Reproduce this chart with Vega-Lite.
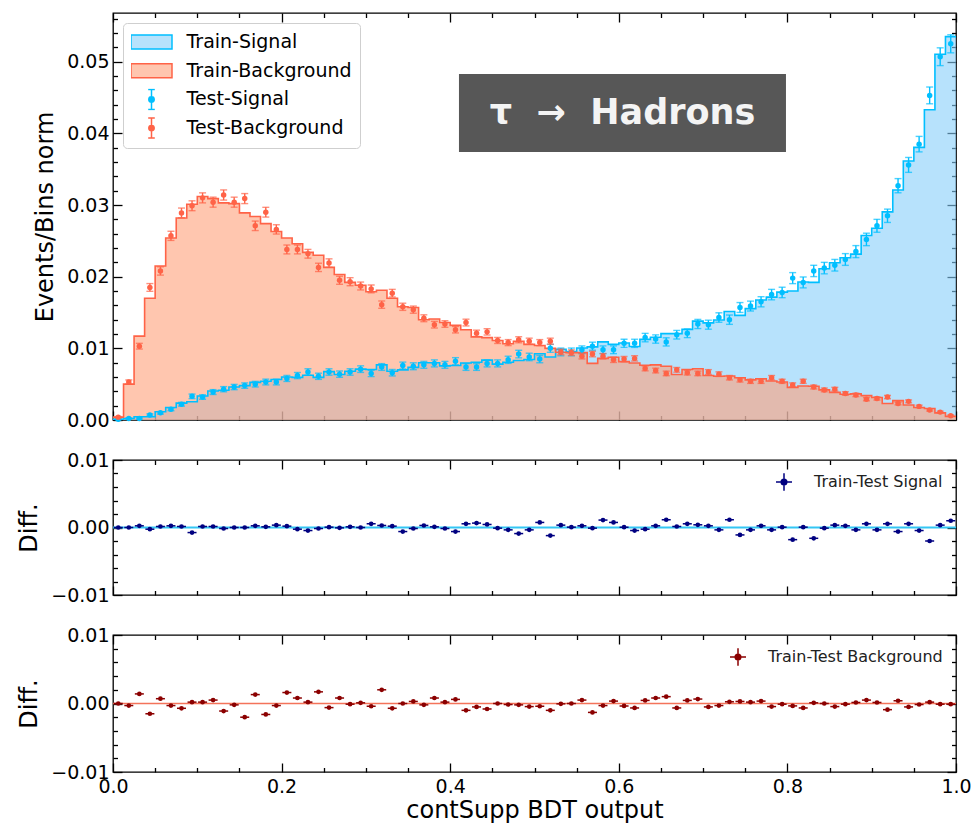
{
  "$schema": "https://vega.github.io/schema/vega-lite/v6.json",
  "padding": {"left": 17, "top": 9, "right": 5, "bottom": 5},
  "background": "white",
  "config": {
    "font": "DejaVu Sans",
    "view": {"stroke": "#000", "strokeWidth": 1.3},
    "axis": {"domain": false, "grid": false, "labelFont": "DejaVu Sans", "labelFontSize": 19, "labelColor": "#000", "titleFont": "DejaVu Sans", "titleFontSize": 24, "titleFontWeight": "normal", "titleColor": "#000", "tickColor": "#000", "tickWidth": 1.3, "labelOverlap": false, "labelFlush": false, "labelBound": false}
  },
  "datasets": {
    "bins": [
      {"x":0.00625,"lo":0,"hi":0.0125,"st":0.0001,"ss":0.0001,"se":0.0001,"bt":0.0004,"bs":0.0004,"be":0.00008,"ds":0,"db":0},
      {"x":0.01875,"lo":0.0125,"hi":0.025,"st":0.0002,"ss":0.0002,"se":0.0001,"bt":0.005,"bs":0.0053,"be":0.00029,"ds":0,"db":-0.0003},
      {"x":0.03125,"lo":0.025,"hi":0.0375,"st":0.00045,"ss":0.0002,"se":0.0001,"bt":0.0117,"bs":0.0103,"be":0.0004,"ds":0.00025,"db":0.0014},
      {"x":0.04375,"lo":0.0375,"hi":0.05,"st":0.00045,"ss":0.0007,"se":0.00015,"bt":0.017,"bs":0.0185,"be":0.00054,"ds":-0.00025,"db":-0.0015},
      {"x":0.05625,"lo":0.05,"hi":0.0625,"st":0.00115,"ss":0.001,"se":0.00017,"bt":0.0215,"bs":0.0208,"be":0.00058,"ds":0.00015,"db":0.0007},
      {"x":0.06875,"lo":0.0625,"hi":0.075,"st":0.00175,"ss":0.0015,"se":0.00021,"bt":0.0254,"bs":0.0257,"be":0.00064,"ds":0.00025,"db":-0.0003},
      {"x":0.08125,"lo":0.075,"hi":0.0875,"st":0.00235,"ss":0.0022,"se":0.00026,"bt":0.0282,"bs":0.0289,"be":0.00068,"ds":0.00015,"db":-0.0007},
      {"x":0.09375,"lo":0.0875,"hi":0.1,"st":0.00255,"ss":0.0033,"se":0.00032,"bt":0.0301,"bs":0.0299,"be":0.00069,"ds":-0.00075,"db":0.0002},
      {"x":0.10625,"lo":0.1,"hi":0.1125,"st":0.00335,"ss":0.0032,"se":0.00031,"bt":0.0312,"bs":0.031,"be":0.0007,"ds":0.00015,"db":0.0002},
      {"x":0.11875,"lo":0.1125,"hi":0.125,"st":0.00405,"ss":0.0039,"se":0.00034,"bt":0.0309,"bs":0.0304,"be":0.0007,"ds":0.00015,"db":0.0005},
      {"x":0.13125,"lo":0.125,"hi":0.1375,"st":0.00415,"ss":0.0043,"se":0.00036,"bt":0.0303,"bs":0.0314,"be":0.00071,"ds":-0.00015,"db":-0.0011},
      {"x":0.14375,"lo":0.1375,"hi":0.15,"st":0.0046,"ss":0.0046,"se":0.00037,"bt":0.0302,"bs":0.0304,"be":0.0007,"ds":0,"db":-0.0002},
      {"x":0.15625,"lo":0.15,"hi":0.1625,"st":0.0048,"ss":0.0048,"se":0.00038,"bt":0.0289,"bs":0.0309,"be":0.0007,"ds":0,"db":-0.002},
      {"x":0.16875,"lo":0.1625,"hi":0.175,"st":0.00525,"ss":0.005,"se":0.00039,"bt":0.0284,"bs":0.0271,"be":0.00066,"ds":0.00025,"db":0.0013},
      {"x":0.18125,"lo":0.175,"hi":0.1875,"st":0.0054,"ss":0.0053,"se":0.0004,"bt":0.0274,"bs":0.029,"be":0.00068,"ds":0.0001,"db":-0.0016},
      {"x":0.19375,"lo":0.1875,"hi":0.2,"st":0.00565,"ss":0.0053,"se":0.0004,"bt":0.0263,"bs":0.0266,"be":0.00065,"ds":0.00035,"db":-0.0003},
      {"x":0.20625,"lo":0.2,"hi":0.2125,"st":0.006,"ss":0.0058,"se":0.00042,"bt":0.0254,"bs":0.0238,"be":0.00062,"ds":0.0002,"db":0.0016},
      {"x":0.21875,"lo":0.2125,"hi":0.225,"st":0.00595,"ss":0.0062,"se":0.00043,"bt":0.0246,"bs":0.0238,"be":0.00062,"ds":-0.00025,"db":0.0008},
      {"x":0.23125,"lo":0.225,"hi":0.2375,"st":0.00625,"ss":0.0067,"se":0.00045,"bt":0.0234,"bs":0.0232,"be":0.00061,"ds":-0.00045,"db":0.0002},
      {"x":0.24375,"lo":0.2375,"hi":0.25,"st":0.00595,"ss":0.0061,"se":0.00043,"bt":0.023,"bs":0.0213,"be":0.00058,"ds":-0.00015,"db":0.0017},
      {"x":0.25625,"lo":0.25,"hi":0.2625,"st":0.00675,"ss":0.0067,"se":0.00045,"bt":0.0213,"bs":0.0219,"be":0.00059,"ds":0.00005,"db":-0.0006},
      {"x":0.26875,"lo":0.2625,"hi":0.275,"st":0.00635,"ss":0.0064,"se":0.00044,"bt":0.0203,"bs":0.0195,"be":0.00056,"ds":-0.00005,"db":0.0008},
      {"x":0.28125,"lo":0.275,"hi":0.2875,"st":0.0068,"ss":0.0067,"se":0.00045,"bt":0.0192,"bs":0.0193,"be":0.00056,"ds":0.0001,"db":-0.0001},
      {"x":0.29375,"lo":0.2875,"hi":0.3,"st":0.0071,"ss":0.0071,"se":0.00046,"bt":0.0188,"bs":0.0187,"be":0.00055,"ds":0,"db":0.0001},
      {"x":0.30625,"lo":0.3,"hi":0.3125,"st":0.00705,"ss":0.0065,"se":0.00044,"bt":0.0179,"bs":0.0183,"be":0.00054,"ds":0.00055,"db":-0.0004},
      {"x":0.31875,"lo":0.3125,"hi":0.325,"st":0.0077,"ss":0.0074,"se":0.00047,"bt":0.0181,"bs":0.0161,"be":0.00051,"ds":0.0003,"db":0.002},
      {"x":0.33125,"lo":0.325,"hi":0.3375,"st":0.0068,"ss":0.0066,"se":0.00045,"bt":0.017,"bs":0.0177,"be":0.00053,"ds":0.0002,"db":-0.0007},
      {"x":0.34375,"lo":0.3375,"hi":0.35,"st":0.007,"ss":0.0076,"se":0.00048,"bt":0.0158,"bs":0.0158,"be":0.0005,"ds":-0.0006,"db":0},
      {"x":0.35625,"lo":0.35,"hi":0.3625,"st":0.00735,"ss":0.0075,"se":0.00048,"bt":0.0157,"bs":0.0154,"be":0.0005,"ds":-0.00015,"db":0.0003},
      {"x":0.36875,"lo":0.3625,"hi":0.375,"st":0.008,"ss":0.0077,"se":0.00048,"bt":0.014,"bs":0.0142,"be":0.00048,"ds":0.0003,"db":-0.0002},
      {"x":0.38125,"lo":0.375,"hi":0.3875,"st":0.008,"ss":0.0079,"se":0.00049,"bt":0.0141,"bs":0.0133,"be":0.00046,"ds":0.0001,"db":0.0008},
      {"x":0.39375,"lo":0.3875,"hi":0.4,"st":0.00755,"ss":0.0077,"se":0.00048,"bt":0.0136,"bs":0.0134,"be":0.00046,"ds":-0.00015,"db":0.0002},
      {"x":0.40625,"lo":0.4,"hi":0.4125,"st":0.0076,"ss":0.0082,"se":0.0005,"bt":0.0132,"bs":0.0126,"be":0.00045,"ds":-0.0006,"db":0.0006},
      {"x":0.41875,"lo":0.4125,"hi":0.425,"st":0.00795,"ss":0.0074,"se":0.00047,"bt":0.0126,"bs":0.0136,"be":0.00047,"ds":0.00055,"db":-0.001},
      {"x":0.43125,"lo":0.425,"hi":0.4375,"st":0.00805,"ss":0.0074,"se":0.00047,"bt":0.0116,"bs":0.0121,"be":0.00044,"ds":0.00065,"db":-0.0005},
      {"x":0.44375,"lo":0.4375,"hi":0.45,"st":0.00835,"ss":0.0079,"se":0.00049,"bt":0.0115,"bs":0.0123,"be":0.00044,"ds":0.00045,"db":-0.0008},
      {"x":0.45625,"lo":0.45,"hi":0.4625,"st":0.0078,"ss":0.0079,"se":0.00049,"bt":0.0111,"bs":0.0111,"be":0.00042,"ds":-0.0001,"db":0},
      {"x":0.46875,"lo":0.4625,"hi":0.475,"st":0.00805,"ss":0.0084,"se":0.0005,"bt":0.01065,"bs":0.0108,"be":0.00042,"ds":-0.00035,"db":-0.00015},
      {"x":0.48125,"lo":0.475,"hi":0.4875,"st":0.0083,"ss":0.0092,"se":0.00053,"bt":0.011,"bs":0.0112,"be":0.00042,"ds":-0.0009,"db":-0.0002},
      {"x":0.49375,"lo":0.4875,"hi":0.5,"st":0.00845,"ss":0.0088,"se":0.00052,"bt":0.01055,"bs":0.011,"be":0.00042,"ds":-0.00035,"db":-0.00045},
      {"x":0.50625,"lo":0.5,"hi":0.5125,"st":0.00925,"ss":0.0085,"se":0.00051,"bt":0.0104,"bs":0.0108,"be":0.00042,"ds":0.00075,"db":-0.0004},
      {"x":0.51875,"lo":0.5125,"hi":0.525,"st":0.0088,"ss":0.01,"se":0.00055,"bt":0.01,"bs":0.011,"be":0.00042,"ds":-0.0012,"db":-0.001},
      {"x":0.53125,"lo":0.525,"hi":0.5375,"st":0.00985,"ss":0.0095,"se":0.00054,"bt":0.00945,"bs":0.0095,"be":0.00039,"ds":0.00035,"db":-0.00005},
      {"x":0.54375,"lo":0.5375,"hi":0.55,"st":0.00955,"ss":0.0095,"se":0.00054,"bt":0.0094,"bs":0.0094,"be":0.00039,"ds":0.00005,"db":0},
      {"x":0.55625,"lo":0.55,"hi":0.5625,"st":0.01005,"ss":0.0098,"se":0.00054,"bt":0.0094,"bs":0.0089,"be":0.00038,"ds":0.00025,"db":0.0005},
      {"x":0.56875,"lo":0.5625,"hi":0.575,"st":0.0102,"ss":0.0103,"se":0.00056,"bt":0.0079,"bs":0.0092,"be":0.00038,"ds":-0.0001,"db":-0.0013},
      {"x":0.58125,"lo":0.575,"hi":0.5875,"st":0.0109,"ss":0.0098,"se":0.00054,"bt":0.0086,"bs":0.0089,"be":0.00038,"ds":0.0011,"db":-0.0003},
      {"x":0.59375,"lo":0.5875,"hi":0.6,"st":0.01055,"ss":0.0098,"se":0.00054,"bt":0.00875,"bs":0.0084,"be":0.00037,"ds":0.00075,"db":0.00035},
      {"x":0.60625,"lo":0.6,"hi":0.6125,"st":0.01075,"ss":0.0107,"se":0.00057,"bt":0.00815,"bs":0.0085,"be":0.00037,"ds":0.00005,"db":-0.00035},
      {"x":0.61875,"lo":0.6125,"hi":0.625,"st":0.01025,"ss":0.0107,"se":0.00057,"bt":0.00795,"bs":0.0086,"be":0.00037,"ds":-0.00045,"db":-0.00065},
      {"x":0.63125,"lo":0.625,"hi":0.6375,"st":0.01125,"ss":0.0115,"se":0.00059,"bt":0.00765,"bs":0.0072,"be":0.00034,"ds":-0.00025,"db":0.00045},
      {"x":0.64375,"lo":0.6375,"hi":0.65,"st":0.01155,"ss":0.0113,"se":0.00058,"bt":0.0077,"bs":0.0069,"be":0.00033,"ds":0.00025,"db":0.0008},
      {"x":0.65625,"lo":0.65,"hi":0.6625,"st":0.01205,"ss":0.0109,"se":0.00057,"bt":0.0075,"bs":0.0065,"be":0.00032,"ds":0.00115,"db":0.001},
      {"x":0.66875,"lo":0.6625,"hi":0.675,"st":0.01205,"ss":0.0119,"se":0.0006,"bt":0.00635,"bs":0.007,"be":0.00033,"ds":0.00015,"db":-0.00065},
      {"x":0.68125,"lo":0.675,"hi":0.6875,"st":0.01265,"ss":0.0121,"se":0.0006,"bt":0.00705,"bs":0.0066,"be":0.00032,"ds":0.00055,"db":0.00045},
      {"x":0.69375,"lo":0.6875,"hi":0.7,"st":0.0138,"ss":0.0134,"se":0.00064,"bt":0.00715,"bs":0.0065,"be":0.00032,"ds":0.0004,"db":0.00065},
      {"x":0.70625,"lo":0.7,"hi":0.7125,"st":0.01355,"ss":0.0133,"se":0.00063,"bt":0.0062,"bs":0.0067,"be":0.00033,"ds":0.00025,"db":-0.0005},
      {"x":0.71875,"lo":0.7125,"hi":0.725,"st":0.01395,"ss":0.0143,"se":0.00066,"bt":0.0061,"bs":0.0064,"be":0.00032,"ds":-0.00035,"db":-0.0003},
      {"x":0.73125,"lo":0.725,"hi":0.7375,"st":0.01515,"ss":0.014,"se":0.00065,"bt":0.00615,"bs":0.0059,"be":0.00031,"ds":0.00115,"db":0.00025},
      {"x":0.74375,"lo":0.7375,"hi":0.75,"st":0.0146,"ss":0.0157,"se":0.00069,"bt":0.0059,"bs":0.0056,"be":0.0003,"ds":-0.0011,"db":0.0003},
      {"x":0.75625,"lo":0.75,"hi":0.7625,"st":0.01555,"ss":0.0159,"se":0.00069,"bt":0.0056,"bs":0.0054,"be":0.00029,"ds":-0.00035,"db":0.0002},
      {"x":0.76875,"lo":0.7625,"hi":0.775,"st":0.01675,"ss":0.0165,"se":0.00071,"bt":0.00575,"bs":0.0054,"be":0.00029,"ds":0.00025,"db":0.00035},
      {"x":0.78125,"lo":0.775,"hi":0.7875,"st":0.01715,"ss":0.0175,"se":0.00073,"bt":0.00545,"bs":0.0059,"be":0.00031,"ds":-0.00035,"db":-0.00045},
      {"x":0.79375,"lo":0.7875,"hi":0.8,"st":0.01785,"ss":0.0178,"se":0.00073,"bt":0.0053,"bs":0.0054,"be":0.00029,"ds":0.00005,"db":-0.0001},
      {"x":0.80625,"lo":0.8,"hi":0.8125,"st":0.018,"ss":0.0198,"se":0.00077,"bt":0.00455,"bs":0.0049,"be":0.00028,"ds":-0.0018,"db":-0.00035},
      {"x":0.81875,"lo":0.8125,"hi":0.825,"st":0.01925,"ss":0.0192,"se":0.00076,"bt":0.00475,"bs":0.0054,"be":0.00029,"ds":0.00005,"db":-0.00065},
      {"x":0.83125,"lo":0.825,"hi":0.8375,"st":0.0192,"ss":0.0208,"se":0.00079,"bt":0.0047,"bs":0.0046,"be":0.00027,"ds":-0.0016,"db":0.0001},
      {"x":0.84375,"lo":0.8375,"hi":0.85,"st":0.0211,"ss":0.0212,"se":0.0008,"bt":0.0042,"bs":0.0042,"be":0.00026,"ds":-0.0001,"db":0},
      {"x":0.85625,"lo":0.85,"hi":0.8625,"st":0.02195,"ss":0.0216,"se":0.00081,"bt":0.00385,"bs":0.0043,"be":0.00026,"ds":0.00035,"db":-0.00045},
      {"x":0.86875,"lo":0.8625,"hi":0.875,"st":0.02265,"ss":0.0224,"se":0.00082,"bt":0.0036,"bs":0.0037,"be":0.00024,"ds":0.00025,"db":-0.0001},
      {"x":0.88125,"lo":0.875,"hi":0.8875,"st":0.02315,"ss":0.0235,"se":0.00084,"bt":0.00365,"bs":0.0035,"be":0.00024,"ds":-0.00035,"db":0.00015},
      {"x":0.89375,"lo":0.8875,"hi":0.9,"st":0.02575,"ss":0.0252,"se":0.00087,"bt":0.0034,"bs":0.0029,"be":0.00022,"ds":0.00055,"db":0.0005},
      {"x":0.90625,"lo":0.9,"hi":0.9125,"st":0.02675,"ss":0.0271,"se":0.0009,"bt":0.00315,"bs":0.003,"be":0.00022,"ds":-0.00035,"db":0.00015},
      {"x":0.91875,"lo":0.9125,"hi":0.925,"st":0.02905,"ss":0.0285,"se":0.00093,"bt":0.0023,"bs":0.0032,"be":0.00023,"ds":0.00055,"db":-0.0009},
      {"x":0.93125,"lo":0.925,"hi":0.9375,"st":0.0321,"ss":0.0327,"se":0.00099,"bt":0.0027,"bs":0.0023,"be":0.00019,"ds":-0.0006,"db":0.0004},
      {"x":0.94375,"lo":0.9375,"hi":0.95,"st":0.03615,"ss":0.0356,"se":0.00104,"bt":0.0021,"bs":0.0026,"be":0.0002,"ds":0.00055,"db":-0.0005},
      {"x":0.95625,"lo":0.95,"hi":0.9625,"st":0.03805,"ss":0.0385,"se":0.00108,"bt":0.00175,"bs":0.0019,"be":0.00017,"ds":-0.00045,"db":-0.00015},
      {"x":0.96875,"lo":0.9625,"hi":0.975,"st":0.0433,"ss":0.0453,"se":0.00117,"bt":0.0016,"bs":0.0014,"be":0.00015,"ds":-0.002,"db":0.0002},
      {"x":0.98125,"lo":0.975,"hi":0.9875,"st":0.05105,"ss":0.0507,"se":0.00124,"bt":0.001,"bs":0.0011,"be":0.00013,"ds":0.00035,"db":-0.0001},
      {"x":0.99375,"lo":0.9875,"hi":1,"st":0.0535,"ss":0.0525,"se":0.00126,"bt":0.0005,"bs":0.0006,"be":0.0001,"ds":0.001,"db":-0.0001}
    ]
  },
  "spacing": 40,
  "bounds": "flush",
  "resolve": {"scale": {"shape": "independent", "fill": "independent", "stroke": "independent"}, "legend": {"shape": "independent", "fill": "independent", "stroke": "independent"}},
  "vconcat": [
    {
      "width": 843,
      "height": 407,
      "data": {"name": "bins"},
      "layer": [
        {
          "transform": [{"fold": ["lo", "hi"], "as": ["edge", "ex"]}],
          "mark": {"type": "area", "interpolate": "linear", "fill": "#87cefa", "fillOpacity": 0.6},
          "encoding": {
            "x": {"field": "ex", "type": "quantitative", "scale": {"domain": [0, 1], "nice": false, "zero": false},
              "axis": {"orient": "bottom", "values": [0,0.05,0.1,0.15,0.2,0.25,0.3,0.35,0.4,0.45,0.5,0.55,0.6,0.65,0.7,0.75,0.8,0.85,0.9,0.95,1],
                "tickSize": {"condition": {"test": "abs(datum.value*5 - round(datum.value*5)) < 1e-6", "value": -9}, "value": -4.5}, "labels": false, "title": null}},
            "y": {"field": "st", "type": "quantitative", "stack": null, "scale": {"domain": [0, 0.0568], "nice": false},
              "axis": {"orient": "left", "values": [0,0.002,0.004,0.006,0.008,0.01,0.012,0.014,0.016,0.018,0.02,0.022,0.024,0.026,0.028,0.03,0.032,0.034,0.036,0.038,0.04,0.042,0.044,0.046,0.048,0.05,0.052,0.054,0.056],
                "tickSize": {"condition": {"test": "abs(datum.value*100 - round(datum.value*100)) < 1e-6", "value": -9}, "value": -4.5},
                "labelExpr": "abs(datum.value*100 - round(datum.value*100)) < 1e-6 ? format(datum.value, '.2f') : ''",
                "labelPadding": 13, "title": "Events/Bins norm", "titlePadding": 9}}
          }
        },
        {
          "transform": [{"fold": ["lo", "hi"], "as": ["edge", "ex"]}],
          "mark": {"type": "area", "interpolate": "linear", "fill": "#ffa07a", "fillOpacity": 0.6},
          "encoding": {
            "x": {"field": "ex", "type": "quantitative", "scale": {"domain": [0, 1], "nice": false, "zero": false},
              "axis": {"orient": "top", "values": [0,0.05,0.1,0.15,0.2,0.25,0.3,0.35,0.4,0.45,0.5,0.55,0.6,0.65,0.7,0.75,0.8,0.85,0.9,0.95,1],
                "tickSize": {"condition": {"test": "abs(datum.value*5 - round(datum.value*5)) < 1e-6", "value": -9}, "value": -4.5}, "labels": false, "title": null}},
            "y": {"field": "bt", "type": "quantitative", "stack": null, "scale": {"domain": [0, 0.0568], "nice": false},
              "axis": {"orient": "right", "values": [0,0.002,0.004,0.006,0.008,0.01,0.012,0.014,0.016,0.018,0.02,0.022,0.024,0.026,0.028,0.03,0.032,0.034,0.036,0.038,0.04,0.042,0.044,0.046,0.048,0.05,0.052,0.054,0.056],
                "tickSize": {"condition": {"test": "abs(datum.value*100 - round(datum.value*100)) < 1e-6", "value": -9}, "value": -4.5}, "labels": false, "title": null}}
          }
        },
        {
          "transform": [{"fold": ["lo", "hi"], "as": ["edge", "ex"]}],
          "mark": {"type": "line", "interpolate": "linear", "color": "#00bfff", "strokeWidth": 1.6},
          "encoding": {
            "x": {"field": "ex", "type": "quantitative", "scale": {"domain": [0, 1], "nice": false, "zero": false}, "axis": null},
            "y": {"field": "st", "type": "quantitative", "scale": {"domain": [0, 0.0568], "nice": false}, "axis": null}
          }
        },
        {
          "transform": [{"fold": ["lo", "hi"], "as": ["edge", "ex"]}],
          "mark": {"type": "line", "interpolate": "linear", "color": "#ff6347", "strokeWidth": 1.6},
          "encoding": {
            "x": {"field": "ex", "type": "quantitative", "scale": {"domain": [0, 1], "nice": false, "zero": false}, "axis": null},
            "y": {"field": "bt", "type": "quantitative", "scale": {"domain": [0, 0.0568], "nice": false}, "axis": null}
          }
        },
        {
          "mark": {"type": "errorbar", "ticks": true, "size": 7, "thickness": 1.4, "color": "#00bfff"},
          "encoding": {
            "x": {"field": "x", "type": "quantitative", "scale": {"domain": [0, 1], "nice": false, "zero": false}, "axis": null},
            "y": {"field": "ss", "type": "quantitative", "scale": {"domain": [0, 0.0568], "nice": false}, "axis": null},
            "yError": {"field": "se"}
          }
        },
        {
          "mark": {"type": "point", "filled": true, "size": 30, "opacity": 1, "color": "#00bfff"},
          "encoding": {
            "x": {"field": "x", "type": "quantitative", "scale": {"domain": [0, 1], "nice": false, "zero": false}, "axis": null},
            "y": {"field": "ss", "type": "quantitative", "scale": {"domain": [0, 0.0568], "nice": false}, "axis": null}
          }
        },
        {
          "mark": {"type": "errorbar", "ticks": true, "size": 7, "thickness": 1.4, "color": "#ff6347"},
          "encoding": {
            "x": {"field": "x", "type": "quantitative", "scale": {"domain": [0, 1], "nice": false, "zero": false}, "axis": null},
            "y": {"field": "bs", "type": "quantitative", "scale": {"domain": [0, 0.0568], "nice": false}, "axis": null},
            "yError": {"field": "be"}
          }
        },
        {
          "mark": {"type": "point", "filled": true, "size": 30, "opacity": 1, "color": "#ff6347"},
          "encoding": {
            "x": {"field": "x", "type": "quantitative", "scale": {"domain": [0, 1], "nice": false, "zero": false}, "axis": null},
            "y": {"field": "bs", "type": "quantitative", "scale": {"domain": [0, 0.0568], "nice": false}, "axis": null}
          }
        },
        {
          "data": {"values": [{"label": "τ\u2002\u2009→\u2002\u2009Hadrons"}]},
          "mark": {"type": "rect", "color": "#575757"},
          "encoding": {
            "x": {"datum": 0.4104, "type": "quantitative", "scale": {"domain": [0, 1], "nice": false, "zero": false}, "axis": null},
            "x2": {"datum": 0.7983},
            "y": {"datum": 0.0374, "type": "quantitative", "scale": {"domain": [0, 0.0568], "nice": false}, "axis": null},
            "y2": {"datum": 0.0483}
          }
        },
        {
          "data": {"values": [{"label": "τ\u2002\u2009→\u2002\u2009Hadrons"}]},
          "mark": {"type": "text", "color": "#f4f4f4", "font": "DejaVu Sans", "fontWeight": "bold", "fontSize": 35, "align": "center", "baseline": "middle"},
          "encoding": {
            "x": {"datum": 0.6044, "type": "quantitative", "scale": {"domain": [0, 1], "nice": false, "zero": false}, "axis": null},
            "y": {"datum": 0.0429, "type": "quantitative", "scale": {"domain": [0, 0.0568], "nice": false}, "axis": null},
            "text": {"field": "label"}
          }
        },
        {
          "data": {"values": []},
          "mark": {"type": "point", "filled": true, "opacity": 1},
          "encoding": {
            "shape": {"field": "series", "type": "nominal",
              "scale": {"domain": ["Train-Signal", "Train-Background", "Test-Signal", "Test-Background"],
                "range": ["M-2.05,-0.7H2.05V0.7H-2.05Z", "M-2.05,-0.7H2.05V0.7H-2.05Z",
                  "M0,-1V1M-0.33,-1H0.33M-0.33,1H0.33M-0.27,0A0.27,0.27,0,1,0,0.27,0A0.27,0.27,0,1,0,-0.27,0Z",
                  "M0,-1V1M-0.33,-1H0.33M-0.33,1H0.33M-0.27,0A0.27,0.27,0,1,0,0.27,0A0.27,0.27,0,1,0,-0.27,0Z"]},
              "legend": {"title": null, "orient": "top-left", "offset": 10, "padding": 8, "fillColor": "rgba(255,255,255,0.85)", "strokeColor": "#cfcfcf", "cornerRadius": 4,
                "symbolSize": 400, "symbolStrokeWidth": 1.5, "symbolOffset": 9.5, "labelOffset": 24, "rowPadding": 6.7, "clipHeight": 22,
                "labelFont": "DejaVu Sans", "labelFontSize": 19, "labelColor": "#000", "labelLimit": 0}},
            "fill": {"field": "series", "type": "nominal",
              "scale": {"domain": ["Train-Signal", "Train-Background", "Test-Signal", "Test-Background"],
                "range": ["#b7e2fc", "#ffc6af", "#00bfff", "#ff6347"]},
              "legend": {"title": null, "orient": "top-left", "offset": 10, "padding": 8, "fillColor": "rgba(255,255,255,0.85)", "strokeColor": "#cfcfcf", "cornerRadius": 4,
                "symbolSize": 400, "symbolStrokeWidth": 1.5, "symbolOffset": 9.5, "labelOffset": 24, "rowPadding": 6.7, "clipHeight": 22,
                "labelFont": "DejaVu Sans", "labelFontSize": 19, "labelColor": "#000", "labelLimit": 0}},
            "stroke": {"field": "series", "type": "nominal",
              "scale": {"domain": ["Train-Signal", "Train-Background", "Test-Signal", "Test-Background"],
                "range": ["#00bfff", "#ff6347", "#00bfff", "#ff6347"]},
              "legend": {"title": null, "orient": "top-left", "offset": 10, "padding": 8, "fillColor": "rgba(255,255,255,0.85)", "strokeColor": "#cfcfcf", "cornerRadius": 4,
                "symbolSize": 400, "symbolStrokeWidth": 1.5, "symbolOffset": 9.5, "labelOffset": 24, "rowPadding": 6.7, "clipHeight": 22,
                "labelFont": "DejaVu Sans", "labelFontSize": 19, "labelColor": "#000", "labelLimit": 0}}
          }
        }
      ],
      "resolve": {"axis": {"x": "independent", "y": "independent"}}
    },
    {
      "width": 843,
      "height": 135,
      "data": {"name": "bins"},
      "layer": [
        {
          "data": {"values": [{"level": 0}]},
          "mark": {"type": "rule", "color": "#33c6f4", "strokeWidth": 2},
          "encoding": {
            "y": {"field": "level", "type": "quantitative", "scale": {"domain": [-0.01, 0.01], "nice": false, "zero": false},
              "axis": {"orient": "left", "values": [-0.01,-0.008,-0.006,-0.004,-0.002,0,0.002,0.004,0.006,0.008,0.01],
                "tickSize": {"condition": {"test": "abs(datum.value*100 - round(datum.value*100)) < 1e-6", "value": -9}, "value": -4.5},
                "labelExpr": "abs(datum.value*100 - round(datum.value*100)) < 1e-6 ? format(datum.value, '.2f') : ''",
                "labelPadding": 13, "title": "Diff.", "titlePadding": 9}}
          }
        },
        {
          "mark": {"type": "tick", "orient": "horizontal", "size": 9, "thickness": 1.5, "opacity": 1, "color": "#000080"},
          "encoding": {
            "x": {"field": "x", "type": "quantitative", "scale": {"domain": [0, 1], "nice": false, "zero": false},
              "axis": {"orient": "bottom", "values": [0,0.05,0.1,0.15,0.2,0.25,0.3,0.35,0.4,0.45,0.5,0.55,0.6,0.65,0.7,0.75,0.8,0.85,0.9,0.95,1],
                "tickSize": {"condition": {"test": "abs(datum.value*5 - round(datum.value*5)) < 1e-6", "value": -9}, "value": -4.5}, "labels": false, "title": null}},
            "y": {"field": "ds", "type": "quantitative", "scale": {"domain": [-0.01, 0.01], "nice": false, "zero": false},
              "axis": {"orient": "right", "values": [-0.01,-0.008,-0.006,-0.004,-0.002,0,0.002,0.004,0.006,0.008,0.01],
                "tickSize": {"condition": {"test": "abs(datum.value*100 - round(datum.value*100)) < 1e-6", "value": -9}, "value": -4.5}, "labels": false, "title": null}}
          }
        },
        {
          "mark": {"type": "point", "filled": true, "size": 22, "opacity": 1, "color": "#000080"},
          "encoding": {
            "x": {"field": "x", "type": "quantitative", "scale": {"domain": [0, 1], "nice": false, "zero": false},
              "axis": {"orient": "top", "values": [0,0.05,0.1,0.15,0.2,0.25,0.3,0.35,0.4,0.45,0.5,0.55,0.6,0.65,0.7,0.75,0.8,0.85,0.9,0.95,1],
                "tickSize": {"condition": {"test": "abs(datum.value*5 - round(datum.value*5)) < 1e-6", "value": -9}, "value": -4.5}, "labels": false, "title": null}},
            "y": {"field": "ds", "type": "quantitative", "scale": {"domain": [-0.01, 0.01], "nice": false, "zero": false}, "axis": null}
          }
        },
        {
          "data": {"values": []},
          "mark": {"type": "point", "filled": true, "opacity": 1},
          "encoding": {
            "shape": {"field": "sig", "type": "nominal",
              "scale": {"domain": ["Train-Test Signal"], "range": ["M-1,0H1M0,-1.1V1.1M-0.35,0A0.35,0.35,0,1,0,0.35,0A0.35,0.35,0,1,0,-0.35,0Z"]},
              "legend": {"title": null, "orient": "top-right", "offset": 8, "padding": 5, "symbolSize": 256, "symbolStrokeWidth": 1.5, "labelOffset": 21, "labelFont": "DejaVu Sans", "labelFontSize": 16, "labelColor": "#222", "labelLimit": 0}},
            "fill": {"field": "sig", "type": "nominal", "scale": {"domain": ["Train-Test Signal"], "range": ["#000080"]},
              "legend": {"title": null, "orient": "top-right", "offset": 8, "padding": 5, "symbolSize": 256, "symbolStrokeWidth": 1.5, "labelOffset": 21, "labelFont": "DejaVu Sans", "labelFontSize": 16, "labelColor": "#222", "labelLimit": 0}},
            "stroke": {"field": "sig", "type": "nominal", "scale": {"domain": ["Train-Test Signal"], "range": ["#000080"]},
              "legend": {"title": null, "orient": "top-right", "offset": 8, "padding": 5, "symbolSize": 256, "symbolStrokeWidth": 1.5, "labelOffset": 21, "labelFont": "DejaVu Sans", "labelFontSize": 16, "labelColor": "#222", "labelLimit": 0}}
          }
        }
      ],
      "resolve": {"axis": {"x": "independent", "y": "independent"}}
    },
    {
      "width": 843,
      "height": 137,
      "data": {"name": "bins"},
      "layer": [
        {
          "data": {"values": [{"level": 0}]},
          "mark": {"type": "rule", "color": "#f4735a", "strokeWidth": 1.5},
          "encoding": {
            "y": {"field": "level", "type": "quantitative", "scale": {"domain": [-0.01, 0.01], "nice": false, "zero": false},
              "axis": {"orient": "left", "values": [-0.01,-0.008,-0.006,-0.004,-0.002,0,0.002,0.004,0.006,0.008,0.01],
                "tickSize": {"condition": {"test": "abs(datum.value*100 - round(datum.value*100)) < 1e-6", "value": -9}, "value": -4.5},
                "labelExpr": "abs(datum.value*100 - round(datum.value*100)) < 1e-6 ? format(datum.value, '.2f') : ''",
                "labelPadding": 13, "title": "Diff.", "titlePadding": 9}}
          }
        },
        {
          "mark": {"type": "tick", "orient": "horizontal", "size": 9, "thickness": 1.5, "opacity": 1, "color": "#8b0000"},
          "encoding": {
            "x": {"field": "x", "type": "quantitative", "scale": {"domain": [0, 1], "nice": false, "zero": false},
              "axis": {"orient": "bottom", "values": [0,0.05,0.1,0.15,0.2,0.25,0.3,0.35,0.4,0.45,0.5,0.55,0.6,0.65,0.7,0.75,0.8,0.85,0.9,0.95,1],
                "tickSize": {"condition": {"test": "abs(datum.value*5 - round(datum.value*5)) < 1e-6", "value": -9}, "value": -4.5},
                "labelExpr": "abs(datum.value*5 - round(datum.value*5)) < 1e-6 ? format(datum.value, '.1f') : ''",
                "labelPadding": 14, "title": "contSupp BDT output", "titlePadding": -2}},
            "y": {"field": "db", "type": "quantitative", "scale": {"domain": [-0.01, 0.01], "nice": false, "zero": false},
              "axis": {"orient": "right", "values": [-0.01,-0.008,-0.006,-0.004,-0.002,0,0.002,0.004,0.006,0.008,0.01],
                "tickSize": {"condition": {"test": "abs(datum.value*100 - round(datum.value*100)) < 1e-6", "value": -9}, "value": -4.5}, "labels": false, "title": null}}
          }
        },
        {
          "mark": {"type": "point", "filled": true, "size": 22, "opacity": 1, "color": "#8b0000"},
          "encoding": {
            "x": {"field": "x", "type": "quantitative", "scale": {"domain": [0, 1], "nice": false, "zero": false},
              "axis": {"orient": "top", "values": [0,0.05,0.1,0.15,0.2,0.25,0.3,0.35,0.4,0.45,0.5,0.55,0.6,0.65,0.7,0.75,0.8,0.85,0.9,0.95,1],
                "tickSize": {"condition": {"test": "abs(datum.value*5 - round(datum.value*5)) < 1e-6", "value": -9}, "value": -4.5}, "labels": false, "title": null}},
            "y": {"field": "db", "type": "quantitative", "scale": {"domain": [-0.01, 0.01], "nice": false, "zero": false}, "axis": null}
          }
        },
        {
          "data": {"values": []},
          "mark": {"type": "point", "filled": true, "opacity": 1},
          "encoding": {
            "shape": {"field": "bkg", "type": "nominal",
              "scale": {"domain": ["Train-Test Background"], "range": ["M-1,0H1M0,-1.1V1.1M-0.35,0A0.35,0.35,0,1,0,0.35,0A0.35,0.35,0,1,0,-0.35,0Z"]},
              "legend": {"title": null, "orient": "top-right", "offset": 8, "padding": 5, "symbolSize": 256, "symbolStrokeWidth": 1.5, "labelOffset": 21, "labelFont": "DejaVu Sans", "labelFontSize": 16, "labelColor": "#222", "labelLimit": 0}},
            "fill": {"field": "bkg", "type": "nominal", "scale": {"domain": ["Train-Test Background"], "range": ["#8b0000"]},
              "legend": {"title": null, "orient": "top-right", "offset": 8, "padding": 5, "symbolSize": 256, "symbolStrokeWidth": 1.5, "labelOffset": 21, "labelFont": "DejaVu Sans", "labelFontSize": 16, "labelColor": "#222", "labelLimit": 0}},
            "stroke": {"field": "bkg", "type": "nominal", "scale": {"domain": ["Train-Test Background"], "range": ["#8b0000"]},
              "legend": {"title": null, "orient": "top-right", "offset": 8, "padding": 5, "symbolSize": 256, "symbolStrokeWidth": 1.5, "labelOffset": 21, "labelFont": "DejaVu Sans", "labelFontSize": 16, "labelColor": "#222", "labelLimit": 0}}
          }
        }
      ],
      "resolve": {"axis": {"x": "independent", "y": "independent"}}
    }
  ]
}
